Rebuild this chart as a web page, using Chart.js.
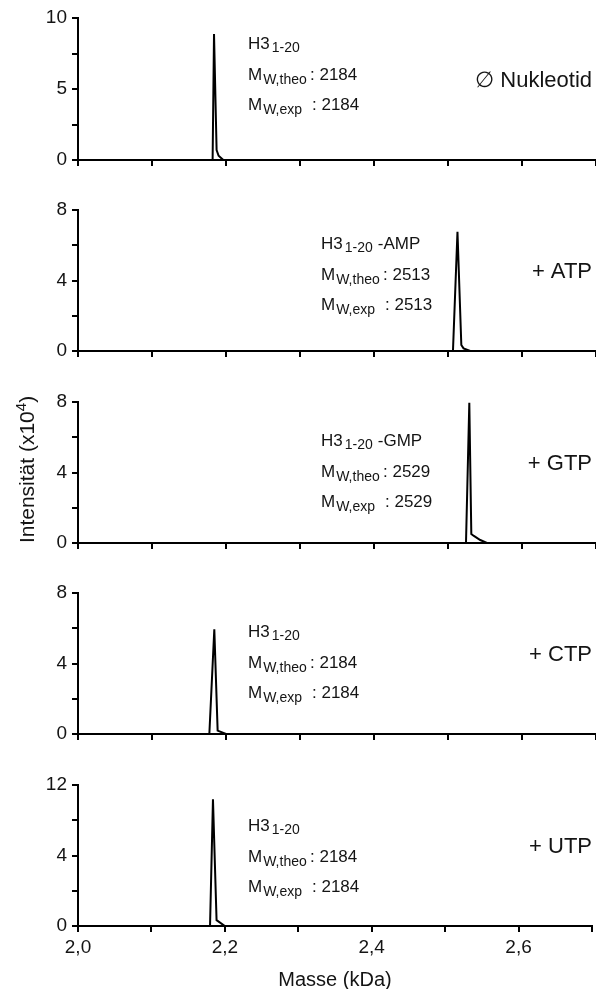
<!DOCTYPE html>
<html>
<head>
<meta charset="utf-8">
<script src="https://cdn.jsdelivr.net/npm/chart.js@4"></script>
<style>
  html, body { margin: 0; padding: 0; background: #fff; }
  #wrap { position: relative; width: 596px; height: 989px; overflow: hidden; }
  .panel { position: absolute; left: 0; width: 596px; }
</style>
</head>
<body>
<div id="wrap"></div>
<script>
// spectra: mass in kDa, intensity in x10^4
const massNone = [2.0, 2.1819, 2.1838, 2.1873, 2.1900, 2.1964, 2.7];
const intNone  = [0,   0,      8.87,   0.70,   0.30,   0,      0];
const massATP  = [2.0, 2.5067, 2.5128, 2.5180, 2.5210, 2.5300, 2.7];
const intATP   = [0,   0,      6.77,   0.34,   0.15,   0,      0];
const massGTP  = [2.0, 2.5243, 2.5288, 2.5315, 2.5350, 2.5436, 2.5526, 2.7];
const intGTP   = [0,   0,      7.96,   0.51,   0.40,   0.17,   0,      0];
const massCTP  = [2.0, 2.1775, 2.1842, 2.1887, 2.2000, 2.7];
const intCTP   = [0,   0,      5.94,   0.19,   0,      0];
const massUTP  = [2.0, 2.1798, 2.1838, 2.1887, 2.2000, 2.7];
const intUTP   = [0,   0,      10.78,  0.50,   0,      0];

const conditions = ['\u2205 Nukleotid', '+ ATP', '+ GTP', '+ CTP', '+ UTP'];
const species = ['', '-AMP', '-GMP', '', ''];
const mwTheo = ['2184', '2513', '2529', '2184', '2184'];
const mwExp = ['2184', '2513', '2529', '2184', '2184'];

const yMax = [10, 8, 8, 8, 12];
const yStep = [2.5, 2, 2, 2, 3];
const yTickLabels = [
  ['0', '', '5', '', '10'],
  ['0', '', '4', '', '8'],
  ['0', '', '4', '', '8'],
  ['0', '', '4', '', '8'],
  ['0', '', '4', '', '12']
];
const xTickLabels = ['2,0', '', '2,2', '', '2,4', '', '2,6', ''];

const series = [
  [massNone, intNone],
  [massATP, intATP],
  [massGTP, intGTP],
  [massCTP, intCTP],
  [massUTP, intUTP]
];

// layout (page pixels)
const areaTop = [18, 210, 402, 593, 785];
const areaBottom = [160, 351, 543, 734, 926];
const noteX = [248, 321, 321, 248, 248];
const noteDrop = [111, 102, 97, 97, 95];
const PAD_TOP = 20;
const FONT = '"Liberation Sans", Arial, sans-serif';
const TXT = '#141414';

function textPlugin(i) {
  return {
    id: 'panelText' + i,
    afterDraw(chart) {
      const ctx = chart.ctx;
      const a = chart.chartArea;
      ctx.save();
      ctx.fillStyle = TXT;
      ctx.textBaseline = 'alphabetic';
      ctx.textAlign = 'left';

      // annotation block
      const x0 = noteX[i];
      let y = a.bottom - noteDrop[i];
      ctx.font = '17px ' + FONT;
      ctx.fillText('H3', x0, y);
      let x = x0 + ctx.measureText('H3').width + 2;
      ctx.font = '14px ' + FONT;
      ctx.fillText('1-20', x, y + 3);
      x += ctx.measureText('1-20').width + 5;
      if (species[i]) {
        ctx.font = '17px ' + FONT;
        ctx.fillText(species[i], x, y);
      }

      const rows = [['W,theo', mwTheo[i], 62], ['W,exp', mwExp[i], 64]];
      rows.forEach(r => {
        y += 30.5;
        ctx.font = '17px ' + FONT;
        ctx.fillText('M', x0, y);
        const mw = ctx.measureText('M').width;
        ctx.font = '14px ' + FONT;
        ctx.fillText(r[0], x0 + mw + 1, y + 4);
        ctx.font = '17px ' + FONT;
        ctx.fillText(': ' + r[1], x0 + r[2], y);
      });

      // condition label
      ctx.textAlign = 'right';
      ctx.font = '22px ' + FONT;
      ctx.fillText(conditions[i], 592, a.bottom - 73);

      // shared y axis title on the middle panel
      if (i === 2) {
        const cy = (a.top + a.bottom) / 2 - 3;
        ctx.translate(34, cy);
        ctx.rotate(-Math.PI / 2);
        ctx.textAlign = 'left';
        const big = '21px ' + FONT, small = '15px ' + FONT;
        ctx.font = big;
        const w1 = ctx.measureText('Intensit\u00e4t (x10').width;
        const w3 = ctx.measureText(')').width;
        ctx.font = small;
        const w2 = ctx.measureText('4').width;
        let tx = -(w1 + w2 + w3) / 2;
        ctx.font = big;
        ctx.fillText('Intensit\u00e4t (x10', tx, 0);
        tx += w1;
        ctx.font = small;
        ctx.fillText('4', tx, -8);
        tx += w2;
        ctx.font = big;
        ctx.fillText(')', tx, 0);
      }
      ctx.restore();
    }
  };
}

const wrap = document.getElementById('wrap');

for (let i = 0; i < 5; i++) {
  const last = i === 4;
  const xH = last ? 63 : 20;
  const h = PAD_TOP + (areaBottom[i] - areaTop[i]) + xH;
  const div = document.createElement('div');
  div.className = 'panel';
  div.style.top = (areaTop[i] - PAD_TOP) + 'px';
  div.style.height = h + 'px';
  const cv = document.createElement('canvas');
  cv.width = 596;
  cv.height = h;
  cv.style.width = '596px';
  cv.style.height = h + 'px';
  div.appendChild(cv);
  wrap.appendChild(div);

  const [mass, ints] = series[i];

  new Chart(cv, {
    type: 'line',
    data: {
      datasets: [{
        data: mass.map((m, k) => ({ x: m, y: ints[k] })),
        borderColor: '#000',
        borderWidth: 2,
        pointRadius: 0,
        tension: 0,
        fill: false
      }]
    },
    options: {
      responsive: false,
      devicePixelRatio: 1,
      animation: false,
      layout: { padding: { top: PAD_TOP, left: 0, right: 0, bottom: 0 } },
      plugins: {
        legend: { display: false },
        tooltip: { enabled: false }
      },
      scales: {
        x: {
          type: 'linear',
          min: 2.0,
          max: 2.7,
          afterFit: s => { s.height = xH; },
          ticks: {
            stepSize: 0.1,
            autoSkip: false,
            maxRotation: 0,
            display: last,
            color: TXT,
            padding: 4,
            font: { family: FONT, size: 19 },
            callback: (v, idx) => xTickLabels[idx] ?? ''
          },
          grid: { drawOnChartArea: false, drawTicks: true, tickLength: 6, lineWidth: 2, color: '#000' },
          border: { color: '#000', width: 2 },
          title: {
            display: last,
            text: 'Masse (kDa)',
            color: TXT,
            font: { family: FONT, size: 20 },
            padding: { top: 0, bottom: -3 }
          }
        },
        y: {
          min: 0,
          max: yMax[i],
          afterFit: s => { s.width = 78; },
          ticks: {
            stepSize: yStep[i],
            color: TXT,
            padding: 5,
            font: { family: FONT, size: 19 },
            callback: (v, idx) => yTickLabels[i][idx] ?? ''
          },
          grid: { drawOnChartArea: false, drawTicks: true, tickLength: 6, lineWidth: 2, color: '#000' },
          border: { color: '#000', width: 2 }
        }
      }
    },
    plugins: [textPlugin(i)]
  });
}
</script>
</body>
</html>
